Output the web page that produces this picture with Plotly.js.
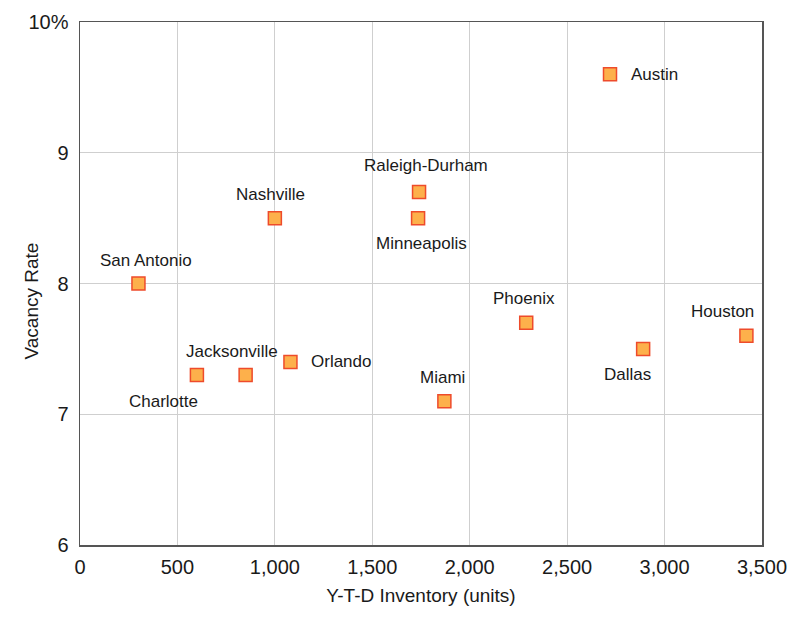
<!DOCTYPE html>
<html>
<head>
<meta charset="utf-8">
<script src="https://cdn.plot.ly/plotly-3.0.1.min.js"></script>
<style>
  html, body { margin: 0; padding: 0; background: #fff; }
  #chart { width: 800px; height: 620px; }
</style>
</head>
<body>
<div id="chart"></div>
<script>
// Multifamily markets: year-to-date inventory vs. vacancy rate
const cities = ['San Antonio', 'Charlotte', 'Jacksonville', 'Orlando', 'Nashville',
  'Raleigh-Durham', 'Minneapolis', 'Miami', 'Phoenix', 'Austin', 'Dallas', 'Houston'];
const inventory = [300, 600, 850, 1080, 1000, 1740, 1735, 1870, 2290, 2720, 2890, 3420];
const vacancy = [8.0, 7.3, 7.3, 7.4, 8.5, 8.7, 8.5, 7.1, 7.7, 9.6, 7.5, 7.6];

const xTicks = [0, 500, 1000, 1500, 2000, 2500, 3000, 3500];
const xTickText = ['0', '500', '1,000', '1,500', '2,000', '2,500', '3,000', '3,500'];
const yTicks = [6, 7, 8, 9, 10];
const yTickText = ['6', '7', '8', '9', '10%'];

// label placement around each marker (pixels)
const labelDx = [8, -33, -14, 19, -4, 7, 3, -2, -2, 19, -16, -24];
const labelDy = [23, -26, 24, 0, 24, 26, -25, 24, 24, 0, -26, 24];
const labelAnchor = ['center', 'center', 'center', 'left', 'center', 'center',
  'center', 'center', 'center', 'left', 'center', 'center'];

const fontFamily = '"Liberation Sans", Arial, Helvetica, sans-serif';
const ink = '#1a1a1a';

const trace = {
  type: 'scatter',
  mode: 'markers',
  x: inventory,
  y: vacancy,
  text: cities,
  hoverinfo: 'text',
  marker: {
    symbol: 'square',
    size: 13,
    color: '#FDB04B',
    line: { color: '#EE4B2B', width: 1.5 }
  },
  cliponaxis: false
};

const annotations = cities.map((c, i) => ({
  x: inventory[i],
  y: vacancy[i],
  xref: 'x',
  yref: 'y',
  text: c,
  showarrow: false,
  xanchor: labelAnchor[i],
  yanchor: 'middle',
  xshift: labelDx[i],
  yshift: labelDy[i],
  font: { family: fontFamily, size: 17, color: ink }
}));

// y-axis title, set close to the tick labels
annotations.push({
  xref: 'paper', yref: 'paper',
  x: 0, y: 0.5,
  xshift: -49, yshift: -18,
  text: 'Vacancy Rate',
  textangle: -90,
  showarrow: false,
  xanchor: 'center', yanchor: 'middle',
  font: { family: fontFamily, size: 19, color: ink }
});

const layout = {
  width: 800,
  height: 620,
  margin: { l: 80, r: 38, t: 22, b: 75 },
  paper_bgcolor: '#fff',
  plot_bgcolor: '#fff',
  showlegend: false,
  font: { family: fontFamily, color: ink },
  xaxis: {
    range: [0, 3500],
    tickvals: xTicks,
    ticktext: xTickText,
    tickfont: { size: 20, color: ink },
    showgrid: true,
    gridcolor: '#cfcfcf',
    gridwidth: 1,
    zeroline: false,
    showline: true,
    linecolor: '#555',
    linewidth: 1.5,
    mirror: true,
    ticks: '',
    ticklabelstandoff: 3,
    title: { text: 'Y-T-D Inventory (units)', font: { size: 19, color: ink }, standoff: 12 }
  },
  yaxis: {
    range: [6, 10],
    tickvals: yTicks,
    ticktext: yTickText,
    tickfont: { size: 20, color: ink },
    showgrid: true,
    gridcolor: '#cfcfcf',
    gridwidth: 1,
    zeroline: false,
    showline: true,
    linecolor: '#555',
    linewidth: 1.5,
    mirror: true,
    ticks: '',
    ticklabelstandoff: 6
  },
  annotations: annotations
};

Plotly.newPlot('chart', [trace], layout, { displayModeBar: false, staticPlot: true });
</script>
</body>
</html>
